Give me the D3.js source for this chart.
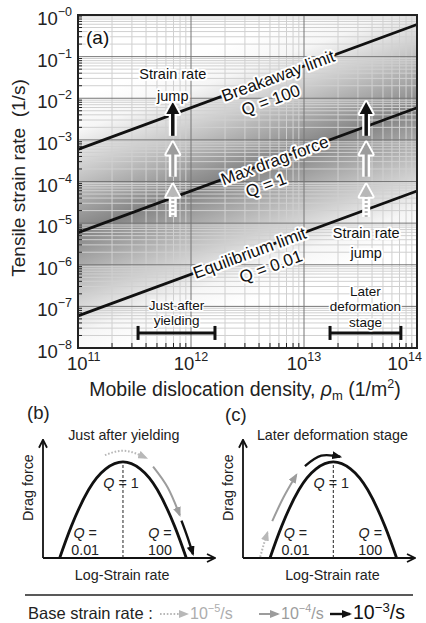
<!DOCTYPE html>
<html>
<head>
<meta charset="utf-8">
<script src="https://cdn.jsdelivr.net/npm/d3@7"></script>
<style>
  body { margin: 0; background: #fff; }
  svg { display: block; font-family: "Liberation Sans", Arial, sans-serif; }
</style>
</head>
<body>
<svg id="fig" width="426" height="623"></svg>
<script>
// ---- panel (a) data ----
var rhoTicks = [1e11, 1e12, 1e13, 1e14];
var rhoTickExp = ["11", "12", "13", "14"];
var rateTicks = [1, 1e-1, 1e-2, 1e-3, 1e-4, 1e-5, 1e-6, 1e-7, 1e-8];
var rateTickExp = ["\u22120", "\u22121", "\u22122", "\u22123", "\u22124", "\u22125", "\u22126", "\u22127", "\u22128"];

var limitNames = ["Breakaway limit", "Max drag force", "Equilibrium limit"];
var limitQ = ["100", "1", "0.01"];
var limitRho = [1e11, 1e14];
var limitRateStart = [5.9e-4, 5.9e-6, 5.9e-8];
var limitRateEnd = [5.9e-1, 5.9e-3, 5.9e-5];
var nameRho = [5.9e12, 5.5e12, 3.3e12];
var qRho = [4.4e12, 4.0e12, 4.4e12];

var jumpRho = [6.9e11, 3.55e13];
var jumpFrom = [1.4e-5, 1.3e-4, 1.25e-3];
var jumpTo = [8.3e-5, 8.6e-4, 8.1e-3];
var jumpLabelRate = [[3.8e-2, 1.15e-2], [5.8e-6, 1.9e-6]];

var stageLines = [["Just after", "yielding"], ["Later", "deformation", "stage"]];
var stageRange = [[3.4e11, 1.63e12], [1.7e13, 7.2e13]];
var stageRate = 2.3e-8;
var stageTextRate = [[1.09e-7, 4.6e-8], [2.37e-7, 1.0e-7, 4.22e-8]];

// ---- panels (b), (c) data (schematic units 0..10) ----
var curveDrag = [0, 2.9, 6.2, 8.1, 8.73, 8.1, 6.2, 2.9, 0];
var curveRateB = [0.97, 1.65, 2.65, 3.65, 4.65, 5.65, 6.65, 7.65, 8.33];
var curveRateC = [1.57, 2.25, 3.25, 4.25, 5.25, 6.25, 7.25, 8.25, 8.93];
var peakRate = [4.65, 5.25];

var arrowsB = [
  { rate: [3.6, 4.75, 6.0], drag: [9.35, 9.75, 9.1] },
  { rate: [6.4, 7.25, 7.95], drag: [8.3, 6.4, 3.9] },
  { rate: [8.05, 8.4, 8.72], drag: [3.4, 1.9, 0.35] }
];
var arrowsC = [
  { rate: [1.0, 1.2, 1.42], drag: [0.1, 1.2, 2.3] },
  { rate: [1.7, 2.35, 3.1], drag: [3.35, 5.5, 7.55] },
  { rate: [3.6, 4.55, 5.65], drag: [8.35, 9.3, 9.2] }
];

var baseRates = ["\u22125", "\u22124", "\u22123"];
var baseColors = ["#b8b8b8", "#9c9c9c", "#111"];

var svg = d3.select("#fig");
var defs = svg.append("defs");

var plot = { left: 78, top: 15, right: 417, bottom: 348 };
var x = d3.scaleLog().domain([1e11, 1e14]).range([plot.left, plot.right]);
var y = d3.scaleLog().domain([1e-8, 1]).range([plot.bottom, plot.top]);

function halo(sel, w) {
  return sel.attr("stroke", "#fff").attr("stroke-width", w || 4)
    .attr("stroke-linejoin", "round").style("paint-order", "stroke");
}

// pixel endpoints of the three limit lines
var limits = limitNames.map(function (n, i) {
  return {
    x0: x(limitRho[0]), y0: y(limitRateStart[i]),
    x1: x(limitRho[1]), y1: y(limitRateEnd[i])
  };
});
function lineY(L, px) {
  return L.y0 + (L.y1 - L.y0) * (px - L.x0) / (L.x1 - L.x0);
}
var slope = (limits[0].y1 - limits[0].y0) / (limits[0].x1 - limits[0].x0);
var angle = Math.atan(slope) * 180 / Math.PI;

// ---- shaded band around max drag force ----
var cx = (plot.left + plot.right) / 2;
var ay = lineY(limits[0], cx);
var gap = lineY(limits[2], cx) - ay;
var nlen = Math.sqrt(1 + slope * slope);
var dist = gap / nlen, ext = 0.3 * dist;
var nx = -slope / nlen, ny = 1 / nlen;

var grad = defs.append("linearGradient").attr("id", "band")
  .attr("gradientUnits", "userSpaceOnUse")
  .attr("x1", cx - nx * ext).attr("y1", ay - ny * ext)
  .attr("x2", cx + nx * (dist + ext)).attr("y2", ay + ny * (dist + ext));
[[0, "#ffffff"], [0.12, "#f6f6f6"], [0.3, "#c2c2c2"], [0.5, "#848484"],
 [0.7, "#c2c2c2"], [0.88, "#f6f6f6"], [1, "#ffffff"]].forEach(function (s) {
  grad.append("stop").attr("offset", s[0]).attr("stop-color", s[1]);
});

svg.append("rect")
  .attr("x", plot.left).attr("y", plot.top)
  .attr("width", plot.right - plot.left).attr("height", plot.bottom - plot.top)
  .attr("fill", "url(#band)");

// ---- grid ----
function isMajor(v) {
  var l = Math.log10(v);
  return Math.abs(l - Math.round(l)) < 1e-9;
}
var gx = x.ticks(), gy = y.ticks();
var minorX = gx.filter(function (v) { return !isMajor(v); });
var minorY = gy.filter(function (v) { return !isMajor(v); });
var grid = svg.append("g");
grid.selectAll("line.vminor").data(minorX).join("line")
  .attr("x1", function (d) { return x(d); }).attr("x2", function (d) { return x(d); })
  .attr("y1", plot.top).attr("y2", plot.bottom)
  .attr("stroke", "#d0d0d0").attr("stroke-width", 1);
grid.selectAll("line.hminor").data(minorY).join("line")
  .attr("y1", function (d) { return y(d); }).attr("y2", function (d) { return y(d); })
  .attr("x1", plot.left).attr("x2", plot.right)
  .attr("stroke", "#d0d0d0").attr("stroke-width", 1);
grid.selectAll("line.vmajor").data(gx.filter(isMajor)).join("line")
  .attr("x1", function (d) { return x(d); }).attr("x2", function (d) { return x(d); })
  .attr("y1", plot.top).attr("y2", plot.bottom)
  .attr("stroke", "#777").attr("stroke-width", 1);
grid.selectAll("line.hmajor").data(gy.filter(isMajor)).join("line")
  .attr("y1", function (d) { return y(d); }).attr("y2", function (d) { return y(d); })
  .attr("x1", plot.left).attr("x2", plot.right)
  .attr("stroke", "#777").attr("stroke-width", 1);

// inner minor ticks on left and bottom
grid.selectAll("line.ty").data(minorY).join("line")
  .attr("x1", plot.left).attr("x2", plot.left + 4)
  .attr("y1", function (d) { return y(d); }).attr("y2", function (d) { return y(d); })
  .attr("stroke", "#222");
grid.selectAll("line.tx").data(minorX).join("line")
  .attr("y1", plot.bottom).attr("y2", plot.bottom - 5)
  .attr("x1", function (d) { return x(d); }).attr("x2", function (d) { return x(d); })
  .attr("stroke", "#222");

// ---- limit lines ----
svg.selectAll("line.limit").data(limits).join("line")
  .attr("x1", function (d) { return d.x0; }).attr("y1", function (d) { return d.y0; })
  .attr("x2", function (d) { return d.x1; }).attr("y2", function (d) { return d.y1; })
  .attr("stroke", "#111").attr("stroke-width", 2.8);

limitNames.forEach(function (name, i) {
  var px = x(nameRho[i]), py = lineY(limits[i], px);
  halo(svg.append("text"), 4)
    .attr("transform", "translate(" + px + "," + py + ") rotate(" + angle + ")")
    .attr("y", 6).attr("text-anchor", "middle")
    .attr("font-size", 17).attr("fill", "#111").text(name);
  var qx = x(qRho[i]), qy = lineY(limits[i], qx);
  halo(svg.append("text"), 4)
    .attr("transform", "translate(" + qx + "," + qy + ") rotate(" + angle + ")")
    .attr("y", 26).attr("text-anchor", "middle")
    .attr("font-size", 17).attr("fill", "#111").text("Q = " + limitQ[i]);
});

// ---- strain rate jump arrows ----
function jumpArrow(px, r0, r1, k) {
  var y0 = y(r0), y1 = y(r1), hh = 12, hw = 6.5;
  var col = baseColors[k];
  var g = svg.append("g");
  var head = [[px, y1], [px - hw, y1 + hh], [px + hw, y1 + hh]];
  g.append("line").attr("x1", px).attr("x2", px).attr("y1", y0).attr("y2", y1 + hh)
    .attr("stroke", "#fff").attr("stroke-width", 8);
  g.append("polygon").attr("points", head.join(" "))
    .attr("fill", "#fff").attr("stroke", "#fff").attr("stroke-width", 4)
    .attr("stroke-linejoin", "round");
  g.append("line").attr("x1", px).attr("x2", px).attr("y1", y0).attr("y2", y1 + hh - 1)
    .attr("stroke", col).attr("stroke-width", k === 2 ? 3.5 : 3)
    .attr("stroke-dasharray", k === 0 ? "2,2" : null);
  g.append("polygon").attr("points", head.join(" ")).attr("fill", col);
}
jumpRho.forEach(function (rho) {
  jumpFrom.forEach(function (r0, k) { jumpArrow(x(rho), r0, jumpTo[k], k); });
});

// "Strain rate jump" labels
jumpRho.forEach(function (rho, j) {
  ["Strain rate", "jump"].forEach(function (t, i) {
    halo(svg.append("text"), 4)
      .attr("x", x(rho)).attr("y", y(jumpLabelRate[j][i]) + 5)
      .attr("text-anchor", "middle").attr("font-size", 14.5).attr("fill", "#111")
      .text(t);
  });
});

// ---- stage ranges ----
stageRange.forEach(function (r, j) {
  var g = svg.append("g").attr("stroke", "#111").attr("stroke-width", 3);
  var yy = y(stageRate);
  g.append("line").attr("x1", x(r[0])).attr("x2", x(r[1])).attr("y1", yy).attr("y2", yy);
  r.forEach(function (v) {
    g.append("line").attr("x1", x(v)).attr("x2", x(v)).attr("y1", yy - 7).attr("y2", yy + 7);
  });
  var mid = Math.sqrt(r[0] * r[1]);
  stageLines[j].forEach(function (t, i) {
    halo(svg.append("text"), 3)
      .attr("x", x(mid)).attr("y", y(stageTextRate[j][i]) + 5)
      .attr("text-anchor", "middle").attr("font-size", 13.5).attr("fill", "#111")
      .text(t);
  });
});

// frame
svg.append("rect")
  .attr("x", plot.left).attr("y", plot.top)
  .attr("width", plot.right - plot.left).attr("height", plot.bottom - plot.top)
  .attr("fill", "none").attr("stroke", "#222").attr("stroke-width", 2);

halo(svg.append("text"), 4).attr("x", 86).attr("y", 44)
  .attr("font-size", 19).attr("fill", "#111").text("(a)");

// ---- tick labels ----
rateTicks.forEach(function (v, i) {
  var t = svg.append("text").attr("x", 72).attr("y", y(v) + 10)
    .attr("text-anchor", "end").attr("font-size", 18.5).attr("fill", "#222");
  t.append("tspan").text("10");
  t.append("tspan").attr("dy", -9).attr("font-size", 12.5).text(rateTickExp[i]);
});
rhoTicks.forEach(function (v, i) {
  var last = rhoTicks.length - 1;
  var t = svg.append("text")
    .attr("x", x(v) + (i === 0 ? -11 : i === last ? 5 : 0)).attr("y", 370)
    .attr("text-anchor", i === 0 ? "start" : i === last ? "end" : "middle")
    .attr("font-size", 18.5).attr("fill", "#222");
  t.append("tspan").text("10");
  t.append("tspan").attr("dy", -9).attr("font-size", 12.5).text(rhoTickExp[i]);
});

// axis titles
var xt = svg.append("text").attr("x", 245).attr("y", 396)
  .attr("text-anchor", "middle").attr("font-size", 19.5).attr("fill", "#222");
xt.append("tspan").text("Mobile dislocation density, ");
xt.append("tspan").attr("font-style", "italic").text("\u03c1");
xt.append("tspan").attr("font-size", 13).attr("dy", 4).text("m");
xt.append("tspan").attr("dy", -4).text(" (1/m");
xt.append("tspan").attr("font-size", 12.5).attr("dy", -8).text("2");
xt.append("tspan").attr("dy", 8).text(")");

svg.append("text")
  .attr("transform", "translate(25,178) rotate(-90)")
  .attr("text-anchor", "middle").attr("font-size", 19).attr("fill", "#222")
  .style("white-space", "pre")
  .text("Tensile strain rate  (1/s)");

// ---- schematic panels ----
function marker(id, col) {
  defs.append("marker").attr("id", id)
    .attr("viewBox", "0 0 10 8").attr("refX", 8).attr("refY", 4)
    .attr("markerWidth", 10).attr("markerHeight", 8)
    .attr("markerUnits", "userSpaceOnUse").attr("orient", "auto")
    .append("path").attr("d", "M0,0 L10,4 L0,8 z").attr("fill", col);
}
baseColors.forEach(function (c, k) { marker("head" + k, c); });
defs.append("marker").attr("id", "axhead")
  .attr("viewBox", "0 0 10 10").attr("refX", 9).attr("refY", 5)
  .attr("markerWidth", 10).attr("markerHeight", 10)
  .attr("markerUnits", "userSpaceOnUse").attr("orient", "auto")
  .append("path").attr("d", "M1,1 L9,5 L1,9").attr("fill", "none")
  .attr("stroke", "#111").attr("stroke-width", 1.8);

function sketchArrow(g, line, pts, k) {
  g.append("path").datum(pts).attr("d", line)
    .attr("fill", "none").attr("stroke", baseColors[k])
    .attr("stroke-width", k === 2 ? 2.4 : 2)
    .attr("stroke-dasharray", k === 0 ? "1.6,1.8" : null)
    .attr("marker-end", "url(#head" + k + ")");
}

function drawSketch(opt) {
  var sx = d3.scaleLinear().domain([0, 10]).range(opt.range);
  var sy = d3.scaleLinear().domain([0, 10]).range([558, 448]);
  var g = svg.append("g");
  var line = d3.line()
    .x(function (d) { return sx(d[0]); }).y(function (d) { return sy(d[1]); })
    .curve(d3.curveNatural);
  var fs = 14.3;

  g.append("text").attr("x", opt.labelX).attr("y", opt.labelY)
    .attr("font-size", 18.5).attr("fill", "#222").text(opt.label);
  g.append("text").attr("x", sx(opt.titleAt)).attr("y", 440)
    .attr("text-anchor", "middle").attr("font-size", fs).attr("fill", "#222")
    .text(opt.title);

  // axes
  g.append("line").attr("x1", sx(0)).attr("x2", sx(0)).attr("y1", sy(0)).attr("y2", sy(10.75))
    .attr("stroke", "#111").attr("stroke-width", 1.8).attr("marker-end", "url(#axhead)");
  g.append("line").attr("x1", sx(0)).attr("x2", sx(10)).attr("y1", sy(0)).attr("y2", sy(0))
    .attr("stroke", "#111").attr("stroke-width", 1.8).attr("marker-end", "url(#axhead)");
  g.append("text").attr("transform", "translate(" + (sx(0) - 10) + "," + sy(6.4) + ") rotate(-90)")
    .attr("text-anchor", "middle").attr("font-size", fs).attr("fill", "#222").text("Drag force");
  g.append("text").attr("x", sx(opt.peak - 0.05)).attr("y", 580)
    .attr("text-anchor", "middle").attr("font-size", fs).attr("fill", "#222").text("Log-Strain rate");

  // drag curve
  var pts = opt.rate.map(function (r, i) { return [r, curveDrag[i]]; });
  g.append("path").datum(pts).attr("d", line)
    .attr("fill", "none").attr("stroke", "#111").attr("stroke-width", 2.8);
  g.append("line").attr("x1", sx(opt.peak)).attr("x2", sx(opt.peak))
    .attr("y1", sy(0)).attr("y2", sy(d3.max(curveDrag)))
    .attr("stroke", "#222").attr("stroke-width", 1).attr("stroke-dasharray", "3,2");

  // Q labels
  var q1 = g.append("text").attr("x", sx(opt.peak) - 2).attr("y", 488)
    .attr("text-anchor", "middle").attr("font-size", fs).attr("fill", "#222");
  q1.append("tspan").attr("font-style", "italic").text("Q");
  q1.append("tspan").text(" = 1");
  [[opt.peak - 2.2, "0.01"], [opt.peak + 2.15, "100"]].forEach(function (q) {
    var t = g.append("text").attr("x", sx(q[0])).attr("y", 538)
      .attr("text-anchor", "middle").attr("font-size", fs).attr("fill", "#222");
    t.append("tspan").attr("font-style", "italic").text("Q");
    t.append("tspan").text(" =");
    g.append("text").attr("x", sx(q[0])).attr("y", 555)
      .attr("text-anchor", "middle").attr("font-size", fs).attr("fill", "#222").text(q[1]);
  });

  opt.arrows.forEach(function (a, k) {
    sketchArrow(g, line, a.rate.map(function (r, i) { return [r, a.drag[i]]; }), k);
  });
}

drawSketch({ range: [43, 215], label: "(b)", labelX: 27, labelY: 419, titleAt: 4.7,
  title: "Just after yielding", rate: curveRateB, peak: peakRate[0], arrows: arrowsB });
drawSketch({ range: [243, 415], label: "(c)", labelX: 225, labelY: 421, titleAt: 5.2,
  title: "Later deformation stage", rate: curveRateC, peak: peakRate[1], arrows: arrowsC });

// ---- legend ----
svg.append("line").attr("x1", 25).attr("x2", 413).attr("y1", 595).attr("y2", 595)
  .attr("stroke", "#222").attr("stroke-width", 1.5);

var lg = svg.append("g");
lg.append("text").attr("x", 28).attr("y", 619)
  .attr("font-size", 16.5).attr("fill", "#222").text("Base strain rate :");
var legendArrowX = [160, 259, 330];
var legendArrowLen = [27, 19, 20];
var legendFont = [16, 16, 19.5];
var legendTextColor = ["#adadad", "#9c9c9c", "#111"];
baseRates.forEach(function (e, k) {
  var yy = 614, x0 = legendArrowX[k];
  lg.append("line").attr("x1", x0).attr("x2", x0 + legendArrowLen[k])
    .attr("y1", yy).attr("y2", yy)
    .attr("stroke", baseColors[k]).attr("stroke-width", k === 2 ? 2.4 : 2)
    .attr("stroke-dasharray", k === 0 ? "1.6,1.8" : null)
    .attr("marker-end", "url(#head" + k + ")");
  var fs = legendFont[k];
  var t = lg.append("text").attr("x", x0 + legendArrowLen[k] + 3).attr("y", 619)
    .attr("font-size", fs).attr("fill", legendTextColor[k]);
  t.append("tspan").text("10");
  t.append("tspan").attr("font-size", fs * 0.68).attr("dy", -7).text(e);
  t.append("tspan").attr("dy", 7).text("/s");
});
</script>
</body>
</html>
